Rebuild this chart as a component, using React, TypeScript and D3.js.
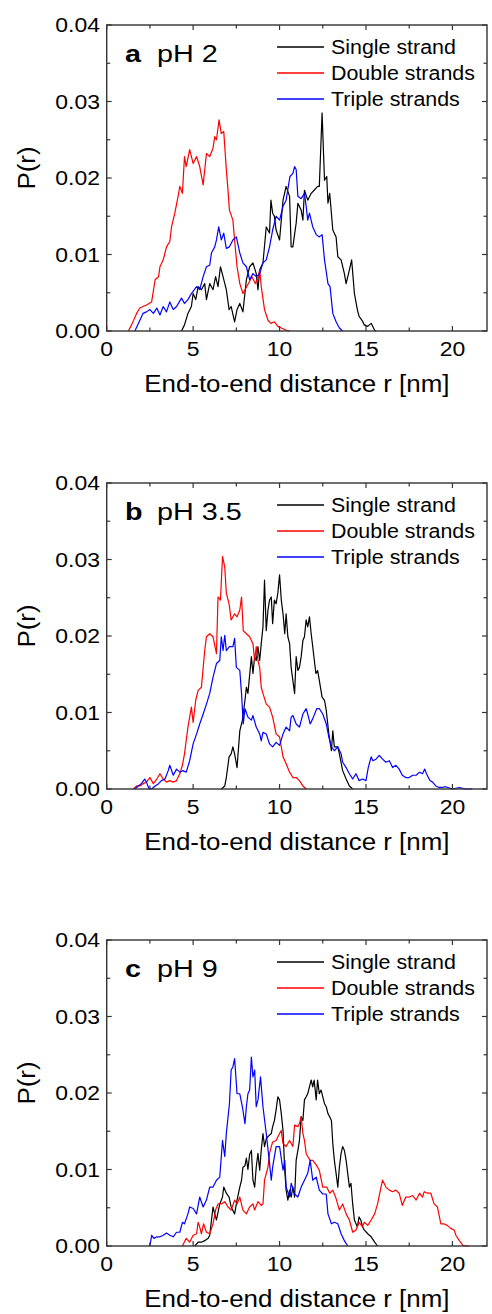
import React from "react";
import * as d3 from "d3";

type Pt = [number, number];

// ---------- data: [r (nm), P(r)] ----------
const aSingle: Pt[] = [[4.33,0],[4.5,0.0008],[4.7,0.0023],[4.9,0.0032],[5.0,0.0049],[5.15,0.0041],[5.29,0.0058],[5.48,0.0054],[5.67,0.0062],[5.77,0.0041],[5.96,0.0062],[6.15,0.0054],[6.3,0.0071],[6.44,0.0058],[6.58,0.0084],[6.73,0.0071],[6.92,0.0054],[7.08,0.0028],[7.2,0.0032],[7.4,0.0012],[7.54,0.0028],[7.7,0.0036],[7.88,0.0025],[8.08,0.0067],[8.27,0.0084],[8.46,0.0089],[8.65,0.0075],[8.75,0.0054],[8.85,0.008],[9.04,0.0089],[9.23,0.0136],[9.42,0.0128],[9.5,0.0171],[9.6,0.0154],[9.7,0.015],[9.8,0.0132],[10.0,0.0119],[10.2,0.0171],[10.38,0.0189],[10.58,0.0176],[10.67,0.011],[10.77,0.011],[10.96,0.0141],[11.06,0.0167],[11.25,0.0158],[11.35,0.0145],[11.44,0.0184],[11.63,0.0171],[11.83,0.018],[12.0,0.0184],[12.2,0.0189],[12.3,0.0189],[12.46,0.0285],[12.6,0.0197],[12.73,0.0202],[12.8,0.0167],[12.9,0.018],[13.08,0.0132],[13.27,0.0123],[13.37,0.0097],[13.56,0.0093],[13.75,0.0075],[13.85,0.0062],[14.04,0.008],[14.17,0.0093],[14.33,0.0049],[14.5,0.0028],[14.6,0.0019],[14.77,0.0014],[14.9,0.0008],[15.1,0.0006],[15.3,0.001],[15.5,0.0001],[15.6,0]];
const aDouble: Pt[] = [[1.25,0],[1.44,0.0008],[1.73,0.0023],[1.92,0.003],[2.1,0.0032],[2.3,0.0034],[2.6,0.0038],[2.8,0.0067],[3.0,0.0071],[3.08,0.0084],[3.27,0.0093],[3.46,0.011],[3.65,0.0117],[3.75,0.0136],[3.94,0.0154],[4.13,0.0176],[4.23,0.0189],[4.38,0.018],[4.5,0.0228],[4.6,0.0215],[4.8,0.0237],[5.0,0.0219],[5.2,0.0228],[5.38,0.0215],[5.58,0.0191],[5.77,0.0232],[5.96,0.0228],[6.15,0.0239],[6.25,0.0254],[6.35,0.025],[6.5,0.0276],[6.63,0.0258],[6.77,0.0261],[6.92,0.0211],[7.0,0.0189],[7.1,0.0158],[7.3,0.0145],[7.4,0.0119],[7.54,0.0084],[7.7,0.0062],[7.88,0.0049],[8.0,0.0054],[8.2,0.0062],[8.4,0.0071],[8.6,0.0062],[8.75,0.0069],[8.85,0.008],[8.94,0.0058],[9.13,0.0028],[9.33,0.0014],[9.5,0.001],[9.7,0.0012],[9.9,0.0006],[10.1,0.0004],[10.4,0.0001],[10.6,0]];
const aTriple: Pt[] = [[1.63,0],[1.92,0.0014],[2.1,0.0023],[2.3,0.0025],[2.5,0.0028],[2.7,0.0023],[2.9,0.003],[3.08,0.0021],[3.27,0.0032],[3.46,0.0025],[3.65,0.0038],[3.85,0.0028],[4.04,0.0032],[4.33,0.0043],[4.5,0.0036],[4.7,0.0041],[4.9,0.0049],[5.2,0.0058],[5.38,0.0054],[5.58,0.0071],[5.77,0.0084],[5.96,0.0086],[6.06,0.0102],[6.25,0.011],[6.35,0.0119],[6.48,0.0136],[6.63,0.0119],[6.77,0.0128],[6.92,0.0108],[7.1,0.011],[7.3,0.0119],[7.5,0.0123],[7.7,0.0102],[7.88,0.0089],[8.08,0.0084],[8.27,0.0067],[8.46,0.0075],[8.65,0.0071],[8.85,0.0075],[9.04,0.0089],[9.23,0.0093],[9.42,0.011],[9.6,0.0132],[9.8,0.015],[10.0,0.0145],[10.2,0.0163],[10.38,0.0171],[10.6,0.0202],[10.77,0.0206],[10.87,0.0215],[10.96,0.0211],[11.06,0.0176],[11.25,0.0173],[11.44,0.018],[11.54,0.0163],[11.63,0.0145],[11.73,0.0154],[11.92,0.0136],[12.12,0.0126],[12.3,0.0123],[12.46,0.0126],[12.6,0.0093],[12.8,0.0062],[12.92,0.0058],[13.08,0.0023],[13.27,0.0012],[13.46,0.0004],[13.65,0]];

const bSingle: Pt[] = [[6.63,0],[6.83,0.0004],[6.92,0.0015],[7.08,0.0042],[7.2,0.0046],[7.3,0.0055],[7.4,0.0046],[7.54,0.0028],[7.7,0.0076],[7.85,0.009],[8.0,0.0116],[8.08,0.0133],[8.17,0.0125],[8.37,0.0173],[8.46,0.0151],[8.56,0.0173],[8.65,0.0168],[8.75,0.0186],[8.85,0.0168],[8.94,0.019],[9.04,0.0212],[9.13,0.0273],[9.23,0.0207],[9.33,0.0234],[9.42,0.0247],[9.52,0.0251],[9.6,0.0216],[9.7,0.0247],[9.8,0.0242],[9.9,0.0256],[10.0,0.028],[10.1,0.0247],[10.2,0.0229],[10.3,0.0203],[10.38,0.0229],[10.48,0.0199],[10.58,0.019],[10.67,0.0159],[10.77,0.0142],[10.87,0.0125],[10.96,0.0173],[11.06,0.0155],[11.15,0.0159],[11.25,0.0173],[11.35,0.0194],[11.44,0.0199],[11.54,0.0221],[11.63,0.0212],[11.73,0.0225],[11.83,0.0203],[11.92,0.0186],[12.1,0.0151],[12.2,0.0155],[12.3,0.0142],[12.46,0.012],[12.6,0.0116],[12.7,0.0103],[12.85,0.0072],[13.0,0.005],[13.08,0.0076],[13.17,0.0055],[13.37,0.0055],[13.46,0.0046],[13.65,0.0024],[13.85,0.0013],[14.04,0.0004],[14.23,0]];
const bDouble: Pt[] = [[1.54,0],[1.73,0.0004],[1.92,0.0004],[2.1,0.0007],[2.3,0.0009],[2.5,0.0015],[2.7,0.0007],[2.9,0.0013],[3.08,0.002],[3.27,0.0013],[3.46,0.0009],[3.65,0.0011],[3.85,0.0009],[4.04,0.0011],[4.23,0.002],[4.38,0.0031],[4.5,0.0046],[4.7,0.0081],[4.9,0.0107],[5.0,0.0087],[5.15,0.0116],[5.29,0.0129],[5.48,0.0133],[5.67,0.0181],[5.77,0.0199],[5.96,0.0203],[6.15,0.0199],[6.35,0.0177],[6.44,0.0251],[6.58,0.0247],[6.7,0.0304],[6.83,0.029],[6.92,0.0256],[7.08,0.0242],[7.2,0.0221],[7.4,0.0229],[7.54,0.0225],[7.7,0.0234],[7.8,0.0251],[7.9,0.0207],[8.08,0.0203],[8.27,0.0199],[8.46,0.019],[8.56,0.0168],[8.65,0.0186],[8.75,0.0168],[8.85,0.0159],[8.94,0.0133],[9.04,0.0125],[9.23,0.0111],[9.42,0.0107],[9.6,0.0094],[9.8,0.0072],[10.0,0.0068],[10.2,0.0042],[10.38,0.0033],[10.58,0.0022],[10.77,0.0015],[10.96,0.0015],[11.15,0.0011],[11.35,0.0004],[11.54,0]];
const bTriple: Pt[] = [[1.63,0],[1.83,0.0004],[2.0,0.0007],[2.2,0.0013],[2.3,0.0009],[2.45,0],[2.6,0],[2.8,0.0004],[3.0,0.0007],[3.17,0.0011],[3.37,0.0013],[3.56,0.0024],[3.65,0.0031],[3.85,0.0018],[4.04,0.0026],[4.23,0.0022],[4.42,0.0024],[4.6,0.0022],[4.8,0.0037],[5.0,0.0059],[5.2,0.0072],[5.38,0.0085],[5.58,0.0098],[5.77,0.0111],[5.96,0.0125],[6.15,0.0146],[6.35,0.0164],[6.54,0.0168],[6.63,0.0199],[6.73,0.0181],[6.83,0.0201],[6.92,0.0181],[7.1,0.0186],[7.3,0.0186],[7.4,0.0197],[7.5,0.0159],[7.7,0.0155],[7.8,0.0125],[7.9,0.0085],[8.0,0.0105],[8.17,0.0094],[8.37,0.009],[8.46,0.0096],[8.65,0.0081],[8.85,0.0072],[8.94,0.0063],[9.04,0.0074],[9.23,0.0072],[9.42,0.0059],[9.6,0.0055],[9.8,0.0061],[10.0,0.0057],[10.2,0.0072],[10.38,0.0081],[10.58,0.0076],[10.67,0.0094],[10.77,0.0096],[10.96,0.0085],[11.15,0.0081],[11.35,0.0098],[11.54,0.0105],[11.63,0.0098],[11.77,0.0085],[11.92,0.0092],[12.15,0.0105],[12.3,0.0105],[12.5,0.0098],[12.7,0.0085],[12.85,0.0068],[13.0,0.0055],[13.17,0.005],[13.37,0.0055],[13.56,0.0046],[13.65,0.0035],[13.85,0.0028],[14.04,0.002],[14.23,0.0013],[14.42,0.002],[14.6,0.0011],[14.8,0.0013],[15.0,0.0011],[15.13,0.0028],[15.3,0.0042],[15.4,0.0037],[15.58,0.0039],[15.77,0.0044],[15.96,0.0039],[16.15,0.0035],[16.35,0.0037],[16.54,0.0028],[16.73,0.0031],[16.92,0.0026],[17.1,0.0018],[17.3,0.0015],[17.5,0.0015],[17.7,0.0018],[17.9,0.0018],[18.1,0.0022],[18.27,0.002],[18.4,0.0026],[18.5,0.002],[18.7,0.0011],[18.85,0.0009],[19.04,0.0004],[19.23,0.0002],[19.42,0.0002],[19.6,0.0003],[20.0,0],[20.4,0.0002],[20.77,0],[21.15,0]];

const cSingle: Pt[] = [[5.1,0],[5.29,0.0005],[5.48,0.0005],[5.67,0.0007],[5.87,0.001],[5.96,0.0014],[6.15,0.0051],[6.25,0.0042],[6.35,0.0034],[6.54,0.0055],[6.7,0.0064],[6.77,0.0077],[6.92,0.0069],[7.08,0.0064],[7.2,0.0051],[7.4,0.0042],[7.54,0.006],[7.7,0.0077],[7.8,0.0086],[7.88,0.0103],[8.0,0.0105],[8.08,0.0115],[8.17,0.01],[8.27,0.012],[8.37,0.0125],[8.46,0.0086],[8.56,0.0077],[8.65,0.0103],[8.75,0.0121],[8.85,0.0099],[8.94,0.0125],[9.04,0.0147],[9.13,0.013],[9.23,0.014],[9.33,0.0143],[9.52,0.0147],[9.6,0.0156],[9.7,0.0164],[9.8,0.0178],[9.9,0.0195],[10.0,0.0191],[10.1,0.0173],[10.2,0.0151],[10.3,0.0099],[10.38,0.0073],[10.48,0.006],[10.58,0.0073],[10.67,0.0064],[10.77,0.0077],[10.87,0.0064],[10.96,0.0112],[11.06,0.0125],[11.15,0.0138],[11.25,0.0169],[11.35,0.0164],[11.44,0.0191],[11.54,0.0195],[11.63,0.0199],[11.73,0.0208],[11.83,0.0217],[11.92,0.0208],[12.0,0.0217],[12.12,0.0191],[12.2,0.0217],[12.3,0.0199],[12.4,0.0204],[12.5,0.0195],[12.6,0.0186],[12.7,0.0182],[12.8,0.0173],[12.9,0.0169],[13.0,0.0164],[13.08,0.0134],[13.17,0.0112],[13.27,0.0095],[13.37,0.0077],[13.46,0.0103],[13.56,0.0121],[13.65,0.013],[13.75,0.0125],[13.85,0.0112],[14.04,0.0077],[14.13,0.0082],[14.23,0.0055],[14.33,0.0034],[14.5,0.0025],[14.6,0.0038],[14.7,0.0034],[14.8,0.0025],[14.9,0.0021],[15.1,0.0016],[15.3,0.0012],[15.5,0.0005],[15.67,0]];
const cDouble: Pt[] = [[4.38,0],[4.6,0.001],[4.8,0.0005],[5.0,0.0014],[5.2,0.0016],[5.29,0.0031],[5.38,0.0025],[5.48,0.0016],[5.6,0.0029],[5.77,0.0018],[5.96,0.0016],[6.15,0.0029],[6.3,0.0047],[6.44,0.0055],[6.63,0.0055],[6.83,0.0058],[7.02,0.0051],[7.2,0.0047],[7.4,0.006],[7.54,0.0055],[7.7,0.0064],[7.88,0.0047],[8.08,0.0042],[8.27,0.0051],[8.46,0.0055],[8.56,0.0047],[8.75,0.0058],[8.94,0.0053],[9.04,0.0055],[9.13,0.0086],[9.33,0.0103],[9.42,0.0121],[9.52,0.013],[9.6,0.0136],[9.8,0.0138],[10.0,0.0147],[10.1,0.0151],[10.2,0.0134],[10.38,0.013],[10.58,0.0138],[10.77,0.013],[10.87,0.0158],[11.06,0.0156],[11.15,0.016],[11.25,0.0169],[11.35,0.0147],[11.44,0.0138],[11.54,0.0121],[11.63,0.0117],[11.77,0.0112],[11.92,0.0112],[12.12,0.0106],[12.3,0.0099],[12.5,0.0077],[12.73,0.0077],[12.9,0.0069],[13.08,0.0073],[13.27,0.0062],[13.46,0.0047],[13.65,0.0055],[13.85,0.0042],[14.04,0.0034],[14.23,0.0018],[14.42,0.0021],[14.6,0.0031],[14.8,0.0025],[14.9,0.0031],[15.1,0.0027],[15.3,0.0034],[15.5,0.0042],[15.67,0.0055],[15.87,0.0077],[15.96,0.0086],[16.15,0.0077],[16.35,0.0073],[16.54,0.0071],[16.73,0.0073],[16.92,0.0069],[17.1,0.0053],[17.3,0.0064],[17.5,0.0064],[17.7,0.0066],[17.9,0.006],[18.1,0.0069],[18.27,0.0064],[18.37,0.0071],[18.56,0.0069],[18.75,0.0069],[18.94,0.0055],[19.13,0.0051],[19.33,0.0029],[19.5,0.0029],[19.7,0.0027],[19.9,0.0023],[20.1,0.0021],[20.2,0.0014],[20.4,0.0007],[20.6,0.0001],[20.77,0],[20.96,0]];
const cTriple: Pt[] = [[2.5,0],[2.6,0.0014],[2.73,0.001],[2.9,0.0012],[3.08,0.0012],[3.27,0.0014],[3.46,0.0017],[3.65,0.0014],[3.85,0.0012],[4.04,0.0018],[4.23,0.0018],[4.38,0.0031],[4.5,0.0029],[4.7,0.0042],[4.8,0.0051],[5.0,0.0049],[5.2,0.0042],[5.38,0.0064],[5.58,0.0051],[5.77,0.006],[5.96,0.0077],[6.15,0.0077],[6.35,0.0086],[6.54,0.009],[6.7,0.0138],[6.83,0.0117],[6.92,0.0147],[7.1,0.0186],[7.2,0.023],[7.3,0.0234],[7.4,0.0245],[7.54,0.0199],[7.7,0.0199],[7.85,0.0182],[8.0,0.016],[8.08,0.0182],[8.17,0.0199],[8.27,0.0204],[8.37,0.0247],[8.46,0.0221],[8.56,0.023],[8.65,0.0182],[8.75,0.0191],[8.9,0.0221],[9.04,0.0182],[9.23,0.0147],[9.42,0.0108],[9.52,0.0086],[9.6,0.0103],[9.8,0.013],[10.0,0.013],[10.2,0.0099],[10.3,0.0112],[10.38,0.0077],[10.58,0.0064],[10.67,0.0082],[10.87,0.0068],[11.06,0.0064],[11.25,0.0077],[11.44,0.0086],[11.63,0.0095],[11.77,0.0112],[11.92,0.0086],[12.12,0.009],[12.3,0.0073],[12.5,0.0068],[12.7,0.0068],[12.8,0.0042],[13.0,0.0029],[13.17,0.0031],[13.37,0.0029],[13.56,0.0016],[13.75,0.0007],[13.94,0]];

const seriesNames = ["Single strand", "Double strands", "Triple strands"];
const seriesColors = ["#000000", "#ff0000", "#0000ff"];
const panelLetters = ["a", "b", "c"];
const panelTitles = ["pH 2", "pH 3.5", "pH 9"];
const panelData: Pt[][][] = [
  [aSingle, aDouble, aTriple],
  [bSingle, bDouble, bTriple],
  [cSingle, cDouble, cTriple],
];
const xTicks = [0, 5, 10, 15, 20];
const xMinor = [2.5, 7.5, 12.5, 17.5];
const yTicks = [0, 0.01, 0.02, 0.03, 0.04];
const yMinor = [0.005, 0.015, 0.025, 0.035];
const xTitle = "End-to-end distance r [nm]";
const yTitle = "P(r)";

// ---------- layout ----------
const W = 492;
const H = 1314;
const plotLeft = 106.7;
const plotRight = 487;
const plotH = 306;
const panelTops = [25, 483, 940];
const FONT = "'Liberation Sans', Arial, Helvetica, sans-serif";
const FRAME = "#333";

function Txt(props: {
  x: number; y: number; size: number; sx?: number; anchor?: string;
  weight?: string | number; rotate?: number; children: React.ReactNode;
}) {
  const { x, y, size, sx = 1, anchor = "start", weight = "normal", rotate, children } = props;
  const tr = `translate(${x},${y})${rotate ? ` rotate(${rotate})` : ""} scale(${sx},1)`;
  return (
    <text transform={tr} fontSize={size} fontFamily={FONT} textAnchor={anchor as any}
      fontWeight={weight} fill="#000">
      {children}
    </text>
  );
}

function Panel({ idx }: { idx: number }) {
  const top = panelTops[idx];
  const bottom = top + plotH;
  const x = d3.scaleLinear().domain([0, 22]).range([plotLeft, plotRight]);
  const y = d3.scaleLinear().domain([0, 0.04]).range([bottom, top]);
  const line = d3.line<Pt>().x((d) => x(d[0])).y((d) => y(d[1]));
  const majLen = 5;
  const minLen = 3.5;
  return (
    <g>
      {panelData[idx].map((s, i) => (
        <path key={i} d={line(s) || ""} fill="none" stroke={seriesColors[i]}
          strokeWidth={1.2} strokeLinejoin="round" />
      ))}
      {/* frame */}
      <rect x={plotLeft} y={top} width={plotRight - plotLeft} height={plotH}
        fill="none" stroke={FRAME} strokeWidth={1.4} />
      {/* x ticks */}
      {xTicks.map((t) => (
        <g key={"xt" + t}>
          <line x1={x(t)} x2={x(t)} y1={bottom} y2={bottom - majLen} stroke={FRAME} strokeWidth={1.2} />
          <line x1={x(t)} x2={x(t)} y1={top} y2={top + majLen} stroke={FRAME} strokeWidth={1.2} />
          <Txt x={x(t)} y={bottom + 25} size={20.5} sx={1.12} anchor="middle">{String(t)}</Txt>
        </g>
      ))}
      {xMinor.map((t) => (
        <g key={"xm" + t}>
          <line x1={x(t)} x2={x(t)} y1={bottom} y2={bottom - minLen} stroke={FRAME} strokeWidth={1.2} />
          <line x1={x(t)} x2={x(t)} y1={top} y2={top + minLen} stroke={FRAME} strokeWidth={1.2} />
        </g>
      ))}
      {/* y ticks */}
      {yTicks.map((t) => (
        <g key={"yt" + t}>
          <line x1={plotLeft} x2={plotLeft + majLen} y1={y(t)} y2={y(t)} stroke={FRAME} strokeWidth={1.2} />
          <line x1={plotRight} x2={plotRight - majLen} y1={y(t)} y2={y(t)} stroke={FRAME} strokeWidth={1.2} />
          <Txt x={100} y={y(t) + 7} size={20.5} sx={1.12} anchor="end">{d3.format(".2f")(t)}</Txt>
        </g>
      ))}
      {yMinor.map((t) => (
        <g key={"ym" + t}>
          <line x1={plotLeft} x2={plotLeft + minLen} y1={y(t)} y2={y(t)} stroke={FRAME} strokeWidth={1.2} />
          <line x1={plotRight} x2={plotRight - minLen} y1={y(t)} y2={y(t)} stroke={FRAME} strokeWidth={1.2} />
        </g>
      ))}
      {/* axis titles */}
      <Txt x={(plotLeft + plotRight) / 2} y={bottom + 61} size={24} sx={1.08} anchor="middle">{xTitle}</Txt>
      <Txt x={35} y={top + plotH / 2 - 10} size={24} sx={1.08} anchor="middle" rotate={-90}>{yTitle}</Txt>
      {/* panel label */}
      <Txt x={125} y={top + 37} size={23} sx={1.25} weight="bold">{panelLetters[idx]}</Txt>
      <Txt x={157} y={top + 37} size={23} sx={1.25}>{panelTitles[idx]}</Txt>
      {/* legend */}
      {seriesNames.map((n, i) => {
        const ly = top + 22 + i * 26;
        return (
          <g key={n}>
            <line x1={277} x2={324} y1={ly} y2={ly} stroke={seriesColors[i]} strokeWidth={1.4} />
            <Txt x={331} y={ly + 7} size={20} sx={1.07}>{n}</Txt>
          </g>
        );
      })}
    </g>
  );
}

export default function App() {
  return (
    <svg width={W} height={H} viewBox={`0 0 ${W} ${H}`}
      style={{ position: "absolute", left: 0, top: 0, background: "#fff" }}>
      <rect x={0} y={0} width={W} height={H} fill="#fff" />
      {[0, 1, 2].map((i) => <Panel key={i} idx={i} />)}
    </svg>
  );
}
